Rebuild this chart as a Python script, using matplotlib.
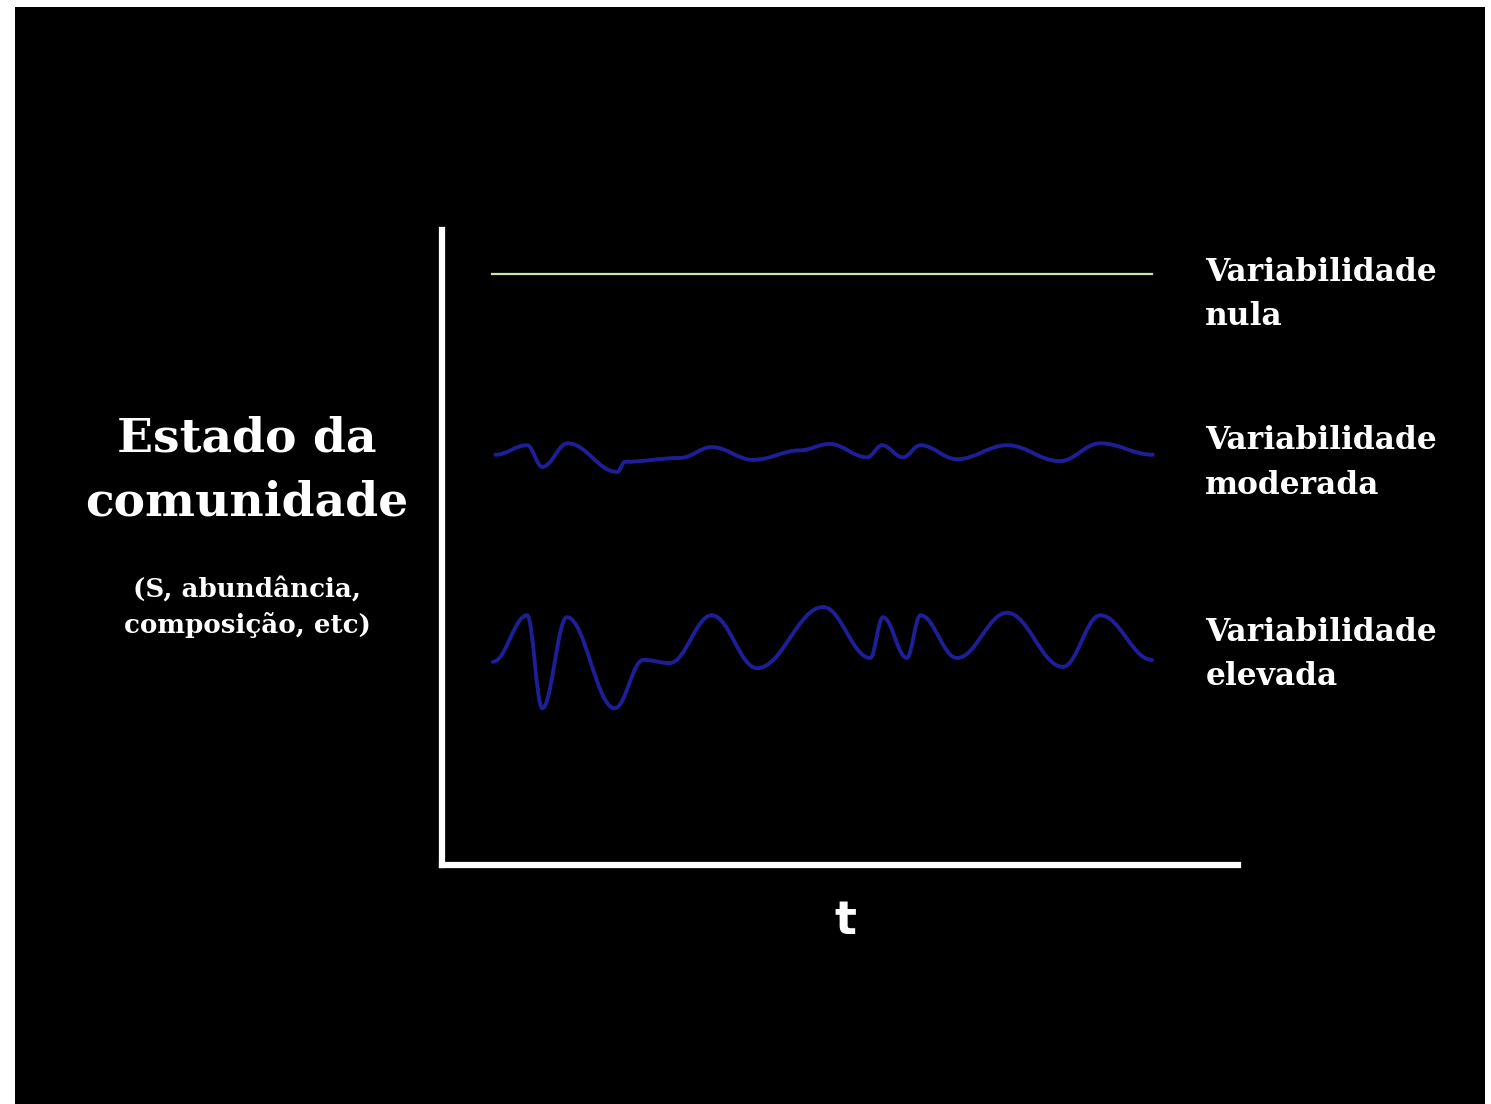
import numpy as np
import matplotlib
matplotlib.use("Agg")
from matplotlib import pyplot as plt
from matplotlib.path import Path
from matplotlib.patches import PathPatch

# time (0-100) and community state (0-100)
nula_t = [6.3, 89.2]
nula_y = [92.8, 92.8]

moderada_t = [6.7, 10.7, 12.6, 15.8, 22.0, 23.0, 29.9, 33.9, 39.1, 45.0, 48.7,
              53.4, 55.3, 57.9, 60.1, 64.7, 71.0, 77.6, 82.7, 89.3]
moderada_y = [64.4, 65.9, 62.5, 66.2, 61.7, 63.3, 63.9, 65.6, 63.6, 65.1, 66.1,
              64.0, 65.9, 64.0, 65.9, 63.7, 65.9, 63.4, 66.2, 64.4]

elevada_t = [6.4, 10.7, 12.6, 15.7, 21.7, 25.3, 28.6, 33.9, 39.6, 47.9,
             53.8, 55.4, 58.4, 60.1, 64.7, 71.0, 78.0, 82.7, 89.2]
elevada_y = [31.9, 39.2, 24.6, 38.9, 24.6, 32.2, 31.7, 39.2, 30.9, 40.5,
             32.5, 38.9, 32.5, 39.2, 32.5, 39.6, 31.1, 39.2, 32.2]

labels_dir = [("Variabilidade\nnula", 89.6),
              ("Variabilidade\nmoderada", 63.1),
              ("Variabilidade\nelevada", 33.1)]

BLUE = "#1e1e98"
GREEN = "#c9e3b4"
SERIF = ["DejaVu Serif"]


def smooth_path(xs, ys):
    # cubic segments with flat tangents at every read point (peaks/troughs)
    verts = [(xs[0], ys[0])]
    codes = [Path.MOVETO]
    for i in range(1, len(xs)):
        dx = xs[i] - xs[i - 1]
        verts += [(xs[i - 1] + 0.38 * dx, ys[i - 1]),
                  (xs[i] - 0.38 * dx, ys[i]),
                  (xs[i], ys[i])]
        codes += [Path.CURVE4] * 3
    return Path(verts, codes)


fig = plt.figure(figsize=(14.91, 11.04), dpi=100)
fig.patch.set_facecolor("white")

# black slide panel
bg = fig.add_axes([15 / 1491, 0, 1470 / 1491, 1097 / 1104])
bg.set_facecolor("black")
bg.set_xticks([])
bg.set_yticks([])
for s in bg.spines.values():
    s.set_visible(False)

ax = fig.add_axes([442 / 1491, (1104 - 865) / 1104,
                   (1238 - 442) / 1491, (865 - 230) / 1104])
ax.patch.set_alpha(0)
ax.set_xlim(0, 100)
ax.set_ylim(0, 100 * 635 / 637)
ax.set_xticks([])
ax.set_yticks([])
ax.spines["top"].set_visible(False)
ax.spines["right"].set_visible(False)
for side in ["left", "bottom"]:
    ax.spines[side].set_color("white")
    ax.spines[side].set_linewidth(4.5)
    ax.spines[side].set_capstyle("projecting")

ax.plot(nula_t, nula_y, color=GREEN, lw=1.6)
for xs, ys in [(moderada_t, moderada_y), (elevada_t, elevada_y)]:
    ax.add_patch(PathPatch(smooth_path(xs, ys), facecolor="none",
                           edgecolor=BLUE, lw=2.8, capstyle="round",
                           joinstyle="round"))

for txt, yv in labels_dir:
    ax.text(95.9, yv, txt, color="white", fontsize=22.5, fontweight="bold",
            family=SERIF, ha="left", va="center", linespacing=1.55,
            clip_on=False)

ax.text(50.7, -8.9, "t", color="white", fontsize=33, fontweight="bold",
        family=["DejaVu Sans"], ha="center", va="center", clip_on=False)

fig.text(247 / 1491, 1 - 471 / 1104, "Estado da\ncomunidade", color="white",
         fontsize=34, fontweight="bold", family=SERIF, ha="center",
         va="center", linespacing=1.5)
fig.text(247 / 1491, 1 - 607 / 1104, "(S, abundância,\ncomposição, etc)",
         color="white", fontsize=18.8, fontweight="bold", family=SERIF,
         ha="center", va="center", linespacing=1.5)

fig.savefig("out.png", dpi=100, facecolor=fig.get_facecolor())
